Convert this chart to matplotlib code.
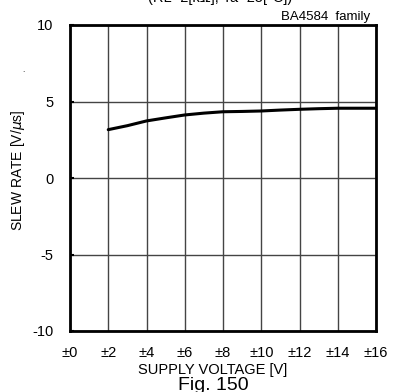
import numpy as np
import matplotlib.pyplot as plt

plt.rcParams['font.family'] = ['Liberation Sans', 'DejaVu Sans']
plt.rcParams['axes.unicode_minus'] = False

# supply voltage (±V) and slew rate (V/us)
vcc = [2, 3, 4, 5, 6, 7, 8, 9, 10, 11, 12, 13, 14, 15, 16]
slew = [3.16, 3.42, 3.73, 3.93, 4.12, 4.24, 4.33, 4.35, 4.38, 4.44, 4.49, 4.53, 4.56, 4.56, 4.56]

xticks = [0, 2, 4, 6, 8, 10, 12, 14, 16]
xlabels = ["±%d" % v for v in xticks]
yticks = [-10, -5, 0, 5, 10]

fig = plt.figure(figsize=(4.04, 3.92), dpi=100)
ax = fig.add_axes([70 / 404, 61 / 392, 306 / 404, 306 / 392])

ax.plot(vcc, slew, color="black", lw=2.2, solid_capstyle="round")

ax.set_xlim(0, 16)
ax.set_ylim(-10, 10)
ax.set_xticks(xticks)
ax.set_xticklabels(xlabels)
ax.set_yticks(yticks)
ax.grid(True, color="#444444", lw=1.0)
ax.tick_params(direction="in", length=3, width=1.5, labelsize=10.5)
ax.tick_params(axis="x", pad=11, length=0)
ax.tick_params(axis="y", pad=12)
for s in ax.spines.values():
    s.set_linewidth(2)

ax.set_xlabel("SUPPLY VOLTAGE [V]", fontsize=10.5, va="center")
ax.xaxis.set_label_coords(0.5 + (213 - 223) / 306, (331 - 370) / 306)
ax.set_ylabel("SLEW RATE [V/$\\mu$s]", fontsize=10, va="center")
ax.yaxis.set_label_coords((18 - 70) / 306, 0.5 + (178 - 170) / 306)

fig.text(370 / 404, 1 - 17 / 392, "BA4584  family", ha="right", va="center", fontsize=9.5)
fig.text(220 / 404, 1 - 5 / 392, "(RL=2[kΩ], Ta=25[°C])", ha="center", va="bottom", fontsize=10.5)
fig.text(23 / 404, 1 - 70 / 392, ".", ha="center", va="center", fontsize=6)
fig.text(213 / 404, 1 - 386 / 392, "Fig. 150", ha="center", va="center", fontsize=14)

fig.savefig("out.png", dpi=100)
